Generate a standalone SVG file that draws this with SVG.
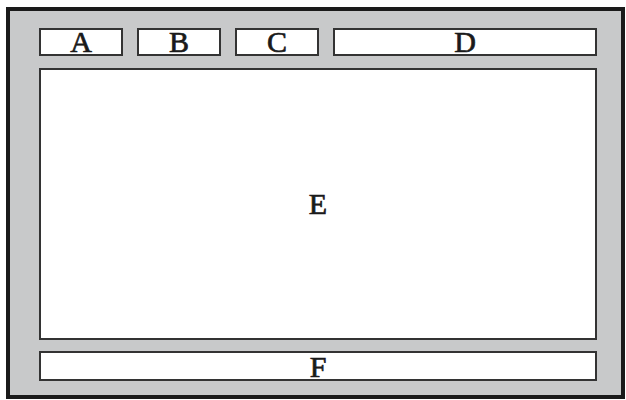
<svg xmlns="http://www.w3.org/2000/svg" width="626" height="400" viewBox="0 0 626 400">
<style>
.box{fill:#fff;stroke:#333;stroke-width:2}
.lbl{font-family:"Liberation Serif","Times New Roman",serif;font-size:30px;fill:#1a1a1a;text-anchor:middle;stroke:#1a1a1a;stroke-width:0.7}
</style>
<rect width="626" height="400" fill="#fff"/>
<g id="frame"><rect x="8" y="9" width="615" height="388" fill="#c8c9ca" stroke="#1a1a1a" stroke-width="4"/></g>
<g id="A"><rect class="box" x="40" y="29" width="82" height="26"/><text class="lbl" x="81" y="52">A</text></g>
<g id="B"><rect class="box" x="138" y="29" width="82" height="26"/><text class="lbl" x="179" y="52">B</text></g>
<g id="C"><rect class="box" x="236" y="29" width="82" height="26"/><text class="lbl" x="277" y="52">C</text></g>
<g id="D"><rect class="box" x="334" y="29" width="262" height="26"/><text class="lbl" x="465" y="52">D</text></g>
<g id="E"><rect class="box" x="40" y="69" width="556" height="270"/><text class="lbl" x="318" y="214">E</text></g>
<g id="F"><rect class="box" x="40" y="352" width="556" height="28"/><text class="lbl" x="318" y="377">F</text></g>
<g id="connectors"/>
</svg>
